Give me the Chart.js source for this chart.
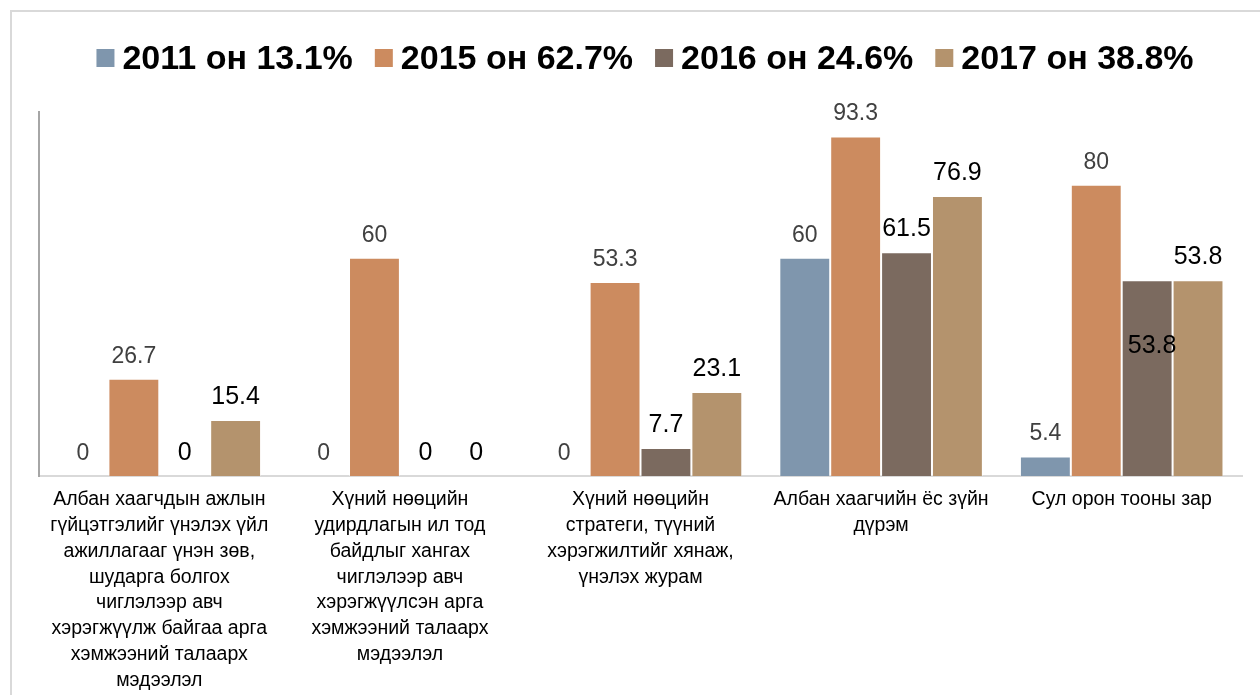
<!DOCTYPE html>
<html>
<head>
<meta charset="utf-8">
<script src="https://cdn.jsdelivr.net/npm/chart.js@4.4.1/dist/chart.umd.min.js"></script>
<style>
  html, body { margin: 0; padding: 0; background: #ffffff; }
  #wrap { width: 1260px; height: 695px; position: relative; }
</style>
</head>
<body>
<div id="wrap"><canvas id="c" width="1260" height="695"></canvas></div>
<script>
// ---- Data ----
const categories = [
  ["Албан хаагчдын ажлын", "гүйцэтгэлийг үнэлэх үйл", "ажиллагааг үнэн зөв,", "шударга болгох", "чиглэлээр авч", "хэрэгжүүлж байгаа арга", "хэмжээний талаарх", "мэдээлэл"],
  ["Хүний нөөцийн", "удирдлагын ил тод", "байдлыг хангах", "чиглэлээр авч", "хэрэгжүүлсэн арга", "хэмжээний талаарх", "мэдээлэл"],
  ["Хүний нөөцийн", "стратеги, түүний", "хэрэгжилтийг хянаж,", "үнэлэх журам"],
  ["Албан хаагчийн ёс зүйн", "дүрэм"],
  ["Сул орон тооны зар"]
];
const seriesNames = ["2011 он 13.1%", "2015 он 62.7%", "2016 он 24.6%", "2017 он 38.8%"];
const values2011 = [0, 0, 0, 60, 5.4];
const values2015 = [26.7, 60, 53.3, 93.3, 80];
const values2016 = [0, 0, 7.7, 61.5, 53.8];
const values2017 = [15.4, 0, 23.1, 76.9, 53.8];
const yMin = 0;
const yMax = 100;

// ---- Styles ----
const colors = ["#7F96AD", "#CC8B5F", "#7B6A5F", "#B4936D"];
const labelColors = ["#404040", "#404040", "#000000", "#000000"];
const labelSizes = [23, 23, 25, 25];
const FONT = "'Liberation Sans', Arial, sans-serif";

const framePlugin = {
  id: 'frame',
  beforeDraw(chart) {
    const ctx = chart.ctx;
    ctx.save();
    ctx.fillStyle = '#ffffff';
    ctx.fillRect(0, 0, chart.width, chart.height);
    ctx.strokeStyle = '#d9d9d9';
    ctx.lineWidth = 2;
    ctx.strokeRect(11, 11, chart.width + 20, chart.height + 20);
    ctx.restore();
  }
};

const legendPlugin = {
  id: 'customLegend',
  afterDraw(chart) {
    const ctx = chart.ctx;
    ctx.save();
    ctx.font = "bold 34px " + FONT;
    const box = 18, gapText = 8, gapItem = 22;
    const items = chart.data.datasets.map(ds => ({ text: ds.label, color: ds.backgroundColor, w: ctx.measureText(ds.label).width }));
    let total = 0;
    items.forEach((it, i) => { total += box + gapText + it.w + (i < items.length - 1 ? gapItem : 0); });
    let x = 645 - total / 2;
    const boxTop = 49;
    items.forEach(it => {
      ctx.fillStyle = it.color;
      ctx.fillRect(x, boxTop, box, box);
      x += box + gapText;
      ctx.fillStyle = '#000000';
      ctx.textBaseline = 'alphabetic';
      ctx.textAlign = 'left';
      ctx.fillText(it.text, x, 69);
      x += it.w + gapItem;
    });
    ctx.restore();
  }
};

const valueLabelPlugin = {
  id: 'valueLabels',
  afterDatasetsDraw(chart) {
    const ctx = chart.ctx;
    ctx.save();
    ctx.textAlign = 'center';
    ctx.textBaseline = 'alphabetic';
    chart.data.datasets.forEach((ds, di) => {
      const meta = chart.getDatasetMeta(di);
      ctx.font = labelSizes[di] + "px " + FONT;
      ctx.fillStyle = labelColors[di];
      meta.data.forEach((bar, i) => {
        const v = ds.data[i];
        let x = bar.x, y = bar.y - 16;
        // label placed inside the bar where it would collide with the neighbour's label
        if (di === 2 && i === 4) { x = bar.x + 5; y = bar.y + 73; }
        ctx.fillText(String(v), x, y);
      });
    });
    ctx.restore();
  }
};

const datasets = [values2011, values2015, values2016, values2017].map((vals, i) => ({
  label: seriesNames[i],
  data: vals,
  backgroundColor: colors[i],
  borderColor: 'rgba(255,255,255,0.45)',
  borderWidth: 1,
  borderSkipped: 'bottom',
  barPercentage: 1.0,
  categoryPercentage: 0.846
}));

new Chart(document.getElementById('c'), {
  type: 'bar',
  data: { labels: categories, datasets },
  options: {
    responsive: false,
    devicePixelRatio: 1,
    animation: false,
    layout: { padding: { left: 39, right: 18, top: 112, bottom: -9 } },
    plugins: {
      legend: { display: false },
      tooltip: { enabled: false }
    },
    scales: {
      x: {
        grid: { display: false, drawTicks: false },
        border: { display: true, color: '#d9d9d9', width: 2 },
        ticks: {
          autoSkip: false,
          maxRotation: 0,
          minRotation: 0,
          padding: 11,
          color: '#000000',
          font: { family: FONT, size: 19.5, lineHeight: 1.32 }
        }
      },
      y: {
        min: yMin,
        max: yMax,
        grid: { display: false, drawTicks: false },
        border: { display: true, color: '#a6a6a6', width: 2 },
        ticks: { display: false }
      }
    }
  },
  plugins: [framePlugin, legendPlugin, valueLabelPlugin]
});
</script>
</body>
</html>
